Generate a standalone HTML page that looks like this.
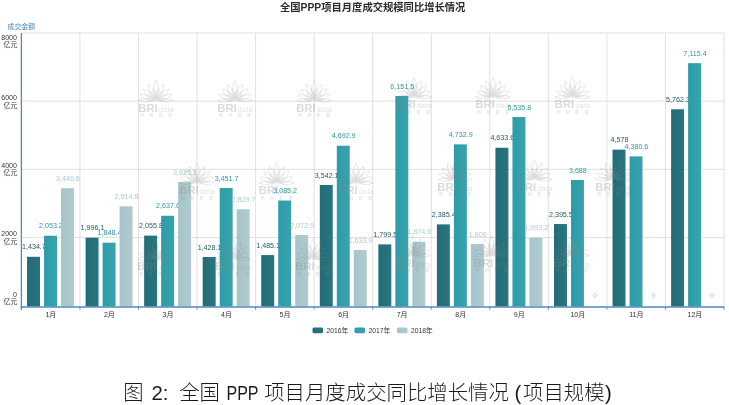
<!DOCTYPE html>
<html lang="zh">
<head>
<meta charset="utf-8">
<title>全国PPP项目月度成交规模同比增长情况</title>
<style>
html,body{margin:0;padding:0;background:#fff;}
body{width:729px;height:405px;overflow:hidden;}
svg{display:block;filter:blur(0.3px);}
</style>
</head>
<body>
<svg width="729" height="405" viewBox="0 0 2916 1620" font-family='"Liberation Sans", "Noto Sans CJK SC", sans-serif'>
<defs>
<linearGradient id="g0" x1="0" y1="0" x2="1" y2="0"><stop offset="0" stop-color="#226c77"/><stop offset="1" stop-color="#29757f"/></linearGradient>
<linearGradient id="g1" x1="0" y1="0" x2="1" y2="0"><stop offset="0" stop-color="#2d9ca8"/><stop offset="1" stop-color="#37a3ad"/></linearGradient>
<linearGradient id="g2" x1="0" y1="0" x2="1" y2="0"><stop offset="0" stop-color="#a5c4c9"/><stop offset="1" stop-color="#afcbd0"/></linearGradient>
<g id="wm" fill="none" stroke="#8a8a8a" stroke-width="2.4">
<path d="M0 -38.4Q18.4 -76.9 0 -108.4Q-18.4 -76.9 0 -38.4ZM-4.88 -37.36Q-2.67 -75.67 -30.1 -94Q-34.83 -61.36 -4.88 -37.36ZM4.88 -37.36Q34.83 -61.36 30.1 -94Q2.67 -75.67 4.88 -37.36ZM-8.78 -34.58Q-20.65 -68.63 -51.19 -74.14Q-43.56 -44.05 -8.78 -34.58ZM8.78 -34.58Q43.56 -44.05 51.19 -74.14Q20.65 -68.63 8.78 -34.58ZM-11.2 -30.7Q-35.25 -57.07 -65.35 -51.49Q-46.72 -27.2 -11.2 -30.7ZM11.2 -30.7Q46.72 -27.2 65.35 -51.49Q35.25 -57.07 11.2 -30.7ZM-11.99 -26.82Q-43.43 -40.72 -69.96 -28.84Q-44.32 -15.14 -11.99 -26.82ZM11.99 -26.82Q44.32 -15.14 69.96 -28.84Q43.43 -40.72 11.99 -26.82ZM-1.66 -34.23Q5.27 -59.32 -10.4 -75.31Q-18.2 -54.33 -1.66 -34.23ZM1.66 -34.23Q18.2 -54.33 10.4 -75.31Q-5.27 -59.32 1.66 -34.23ZM-4.7 -32.87Q-7.93 -56.36 -27.04 -63.61Q-26.05 -43.2 -4.7 -32.87ZM4.7 -32.87Q26.05 -43.2 27.04 -63.61Q7.93 -56.36 4.7 -32.87ZM-6.78 -30.64Q-18.06 -49.95 -37.31 -49.72Q-29.09 -32.31 -6.78 -30.64ZM6.78 -30.64Q29.09 -32.31 37.31 -49.72Q18.06 -49.95 6.78 -30.64ZM-7.85 -27.93Q-24.38 -40.92 -41.23 -34.41Q-28.04 -22.07 -7.85 -27.93ZM7.85 -27.93Q28.04 -22.07 41.23 -34.41Q24.38 -40.92 7.85 -27.93ZM0 -26.4Q8.8 -44 0 -58.4Q-8.8 -44 0 -26.4ZM0 -26.4Q-0.91 -42.38 -13 -48.92Q-13.39 -35.18 0 -26.4ZM0 -26.4Q13.39 -35.18 13 -48.92Q0.91 -42.38 0 -26.4Z"/>
<text x="6.4" y="16.4" font-size="44.8" font-weight="bold" fill="#8a8a8a" stroke="none" text-anchor="end">BRI</text>
<text x="10.8" y="16.4" font-size="28.8" fill="#8a8a8a" stroke="none" opacity="0.8" letter-spacing="1.4">data</text>
<text x="11.2" y="38.4" font-size="16" fill="#8a8a8a" stroke="none" text-anchor="middle" letter-spacing="21.6">明树数据</text>
</g>
</defs>
<rect width="2916" height="1620" fill="#fff"/>
<text x="1490.8" y="43.6" font-size="41.2" font-weight="bold" fill="#2b2b2b" text-anchor="middle">全国PPP项目月度成交规模同比增长情况</text>
<text x="30" y="114.4" font-size="27.6" fill="#4a86bd">成交金额</text>
<path d="M85.6 132H2896M85.6 404.7H2896M85.6 677.4H2896M85.6 950.1H2896M319.8 132V1222.8M554 132V1222.8M788.2 132V1222.8M1022.4 132V1222.8M1256.6 132V1222.8M1490.8 132V1222.8M1725 132V1222.8M1959.2 132V1222.8M2193.4 132V1222.8M2427.6 132V1222.8M2661.8 132V1222.8M2896 132V1222.8" stroke="#cecece" stroke-width="2.48" fill="none"/>
<text x="67.6" y="158.8" font-size="28" fill="#333" text-anchor="end">8000</text>
<text x="68.8" y="188" font-size="27.2" fill="#333" text-anchor="end">亿元</text>
<text x="67.6" y="400.8" font-size="28" fill="#333" text-anchor="end">6000</text>
<text x="68.8" y="430.8" font-size="27.2" fill="#333" text-anchor="end">亿元</text>
<text x="67.6" y="670" font-size="28" fill="#333" text-anchor="end">4000</text>
<text x="68.8" y="700.4" font-size="27.2" fill="#333" text-anchor="end">亿元</text>
<text x="67.6" y="943.2" font-size="28" fill="#333" text-anchor="end">2000</text>
<text x="68.8" y="974" font-size="27.2" fill="#333" text-anchor="end">亿元</text>
<text x="67.6" y="1187.6" font-size="28" fill="#333" text-anchor="end">0</text>
<text x="68.8" y="1217.2" font-size="27.2" fill="#333" text-anchor="end">亿元</text>
<rect x="108.2" y="1027.18" width="51.8" height="198.82" fill="url(#g0)"/>
<text x="135.7" y="997.58" font-size="28.6" fill="#265a65" text-anchor="middle">1,434.7</text>
<rect x="342.4" y="950.63" width="51.8" height="275.37" fill="url(#g0)"/>
<text x="369.9" y="921.03" font-size="28.6" fill="#265a65" text-anchor="middle">1,996.1</text>
<rect x="576.6" y="942.49" width="51.8" height="283.51" fill="url(#g0)"/>
<text x="604.1" y="912.89" font-size="28.6" fill="#265a65" text-anchor="middle">2,055.8</text>
<rect x="810.8" y="1028.08" width="51.8" height="197.92" fill="url(#g0)"/>
<text x="838.3" y="998.48" font-size="28.6" fill="#265a65" text-anchor="middle">1,428.1</text>
<rect x="1045" y="1020.31" width="51.8" height="205.69" fill="url(#g0)"/>
<text x="1072.5" y="990.71" font-size="28.6" fill="#265a65" text-anchor="middle">1,485.1</text>
<rect x="1279.2" y="739.83" width="51.8" height="486.17" fill="url(#g0)"/>
<text x="1306.7" y="710.23" font-size="28.6" fill="#265a65" text-anchor="middle">3,542.1</text>
<rect x="1513.4" y="977.44" width="51.8" height="248.56" fill="url(#g0)"/>
<text x="1540.9" y="947.84" font-size="28.6" fill="#265a65" text-anchor="middle">1,799.5</text>
<rect x="1747.6" y="897.55" width="51.8" height="328.45" fill="url(#g0)"/>
<text x="1775.1" y="867.95" font-size="28.6" fill="#265a65" text-anchor="middle">2,385.4</text>
<rect x="1981.8" y="591.01" width="51.8" height="634.99" fill="url(#g0)"/>
<text x="2009.3" y="561.41" font-size="28.6" fill="#265a65" text-anchor="middle">4,633.6</text>
<rect x="2216" y="896.17" width="51.8" height="329.83" fill="url(#g0)"/>
<text x="2243.5" y="866.57" font-size="28.6" fill="#265a65" text-anchor="middle">2,395.5</text>
<rect x="2450.2" y="598.59" width="51.8" height="627.41" fill="url(#g0)"/>
<text x="2477.7" y="568.99" font-size="28.6" fill="#265a65" text-anchor="middle">4,578</text>
<rect x="2684.4" y="437.11" width="51.8" height="788.89" fill="url(#g0)"/>
<text x="2711.9" y="407.51" font-size="28.6" fill="#265a65" text-anchor="middle">5,762.3</text>
<rect x="176.2" y="942.85" width="51.8" height="283.15" fill="url(#g1)"/>
<text x="203.7" y="913.25" font-size="28.6" fill="#2f98a4" text-anchor="middle">2,053.2</text>
<rect x="410.4" y="970.77" width="51.8" height="255.23" fill="url(#g1)"/>
<text x="437.9" y="941.17" font-size="28.6" fill="#2f98a4" text-anchor="middle">1,848.4</text>
<rect x="644.6" y="863.16" width="51.8" height="362.84" fill="url(#g1)"/>
<text x="672.1" y="833.56" font-size="28.6" fill="#2f98a4" text-anchor="middle">2,637.6</text>
<rect x="878.8" y="752.16" width="51.8" height="473.84" fill="url(#g1)"/>
<text x="906.3" y="722.56" font-size="28.6" fill="#2f98a4" text-anchor="middle">3,451.7</text>
<rect x="1113" y="802.13" width="51.8" height="423.87" fill="url(#g1)"/>
<text x="1140.5" y="772.53" font-size="28.6" fill="#2f98a4" text-anchor="middle">3,085.2</text>
<rect x="1347.2" y="582.92" width="51.8" height="643.08" fill="url(#g1)"/>
<text x="1374.7" y="553.32" font-size="28.6" fill="#2f98a4" text-anchor="middle">4,692.9</text>
<rect x="1581.4" y="384.04" width="51.8" height="841.96" fill="url(#g1)"/>
<text x="1608.9" y="354.44" font-size="28.6" fill="#2f98a4" text-anchor="middle">6,151.5</text>
<rect x="1815.6" y="577.47" width="51.8" height="648.53" fill="url(#g1)"/>
<text x="1843.1" y="547.87" font-size="28.6" fill="#2f98a4" text-anchor="middle">4,732.9</text>
<rect x="2049.8" y="467.99" width="51.8" height="758.01" fill="url(#g1)"/>
<text x="2077.3" y="438.39" font-size="28.6" fill="#2f98a4" text-anchor="middle">5,535.8</text>
<rect x="2284" y="719.94" width="51.8" height="506.06" fill="url(#g1)"/>
<text x="2311.5" y="690.34" font-size="28.6" fill="#2f98a4" text-anchor="middle">3,688</text>
<rect x="2518.2" y="625.51" width="51.8" height="600.49" fill="url(#g1)"/>
<text x="2545.7" y="595.91" font-size="28.6" fill="#2f98a4" text-anchor="middle">4,380.6</text>
<rect x="2752.4" y="252.62" width="51.8" height="973.38" fill="url(#g1)"/>
<text x="2779.9" y="223.02" font-size="28.6" fill="#2f98a4" text-anchor="middle">7,115.4</text>
<rect x="244.2" y="752.86" width="51.8" height="473.14" fill="url(#g2)"/>
<text x="271.7" y="723.26" font-size="28.6" fill="#b0cacf" text-anchor="middle">3,446.6</text>
<rect x="478.4" y="825.37" width="51.8" height="400.63" fill="url(#g2)"/>
<text x="505.9" y="795.77" font-size="28.6" fill="#b0cacf" text-anchor="middle">2,914.8</text>
<rect x="712.6" y="728.5" width="51.8" height="497.5" fill="url(#g2)"/>
<text x="740.1" y="698.9" font-size="28.6" fill="#b0cacf" text-anchor="middle">3,625.2</text>
<rect x="946.8" y="836.97" width="51.8" height="389.03" fill="url(#g2)"/>
<text x="974.3" y="807.37" font-size="28.6" fill="#b0cacf" text-anchor="middle">2,829.7</text>
<rect x="1181" y="940.16" width="51.8" height="285.84" fill="url(#g2)"/>
<text x="1208.5" y="910.56" font-size="28.6" fill="#b0cacf" text-anchor="middle">2,072.9</text>
<rect x="1415.2" y="1000.02" width="51.8" height="225.98" fill="url(#g2)"/>
<text x="1442.7" y="970.42" font-size="28.6" fill="#b0cacf" text-anchor="middle">1,633.9</text>
<rect x="1649.4" y="967.16" width="51.8" height="258.84" fill="url(#g2)"/>
<text x="1676.9" y="937.56" font-size="28.6" fill="#b0cacf" text-anchor="middle">1,874.9</text>
<rect x="1883.6" y="976.55" width="51.8" height="249.45" fill="url(#g2)"/>
<text x="1911.1" y="946.95" font-size="28.6" fill="#b0cacf" text-anchor="middle">1,806</text>
<rect x="2117.8" y="951.03" width="51.8" height="274.97" fill="url(#g2)"/>
<text x="2145.3" y="921.43" font-size="28.6" fill="#b0cacf" text-anchor="middle">1,993.2</text>
<text x="2379.5" y="1193.2" font-size="28.6" fill="#b0cacf" text-anchor="middle">0</text>
<text x="2613.7" y="1193.2" font-size="28.6" fill="#b0cacf" text-anchor="middle">0</text>
<text x="2847.9" y="1193.2" font-size="28.6" fill="#b0cacf" text-anchor="middle">0</text>
<g opacity="0.31">
<use href="#wm" x="624" y="430"/>
<use href="#wm" x="940" y="430"/>
<use href="#wm" x="1256" y="430"/>
<use href="#wm" x="1656" y="416.8"/>
<use href="#wm" x="1972" y="416.8"/>
<use href="#wm" x="2290" y="416.8"/>
<use href="#wm" x="788" y="760"/>
<use href="#wm" x="1106" y="760"/>
<use href="#wm" x="1424" y="760"/>
<use href="#wm" x="1820" y="746.4"/>
<use href="#wm" x="2138" y="746.4"/>
<use href="#wm" x="2452" y="746.4"/>
<use href="#wm" x="620" y="1064"/>
<use href="#wm" x="932" y="1064"/>
<use href="#wm" x="1252" y="1064"/>
<use href="#wm" x="1652" y="1051.2"/>
<use href="#wm" x="1966" y="1051.2"/>
<use href="#wm" x="2286" y="1051.2"/>
</g>
<path d="M85.6 132V1238.8" stroke="#4f88c0" stroke-width="5.2" fill="none"/>
<path d="M83.2 1227.6H2897.6" stroke="#4f88c0" stroke-width="6" fill="none"/>
<path d="M85.6 1226.8V1238.8M319.8 1226.8V1238.8M554 1226.8V1238.8M788.2 1226.8V1238.8M1022.4 1226.8V1238.8M1256.6 1226.8V1238.8M1490.8 1226.8V1238.8M1725 1226.8V1238.8M1959.2 1226.8V1238.8M2193.4 1226.8V1238.8M2427.6 1226.8V1238.8M2661.8 1226.8V1238.8M2896 1226.8V1238.8" stroke="#4a86bd" stroke-width="3.6" fill="none"/>
<text x="203.5" y="1267.6" font-size="28.2" fill="#333" text-anchor="middle">1月</text>
<text x="437.7" y="1267.6" font-size="28.2" fill="#333" text-anchor="middle">2月</text>
<text x="671.9" y="1267.6" font-size="28.2" fill="#333" text-anchor="middle">3月</text>
<text x="906.1" y="1267.6" font-size="28.2" fill="#333" text-anchor="middle">4月</text>
<text x="1140.3" y="1267.6" font-size="28.2" fill="#333" text-anchor="middle">5月</text>
<text x="1374.5" y="1267.6" font-size="28.2" fill="#333" text-anchor="middle">6月</text>
<text x="1608.7" y="1267.6" font-size="28.2" fill="#333" text-anchor="middle">7月</text>
<text x="1842.9" y="1267.6" font-size="28.2" fill="#333" text-anchor="middle">8月</text>
<text x="2077.1" y="1267.6" font-size="28.2" fill="#333" text-anchor="middle">9月</text>
<text x="2311.3" y="1267.6" font-size="28.2" fill="#333" text-anchor="middle">10月</text>
<text x="2545.5" y="1267.6" font-size="28.2" fill="#333" text-anchor="middle">11月</text>
<text x="2779.7" y="1267.6" font-size="28.2" fill="#333" text-anchor="middle">12月</text>
<rect x="1250" y="1309.6" width="42.4" height="23.6" rx="6.4" fill="url(#g0)"/>
<text x="1306" y="1330.4" font-size="27" fill="#333">2016年</text>
<rect x="1418" y="1309.6" width="42.4" height="23.6" rx="6.4" fill="url(#g1)"/>
<text x="1474" y="1330.4" font-size="27" fill="#333">2017年</text>
<rect x="1588" y="1309.6" width="42.4" height="23.6" rx="6.4" fill="url(#g2)"/>
<text x="1644" y="1330.4" font-size="27" fill="#333">2018年</text>
<text y="1598.4" font-size="81.6" font-weight="300" fill="#1a1a1a"><tspan x="492.8">图</tspan><tspan x="606">2:</tspan><tspan x="716.8">全国</tspan><tspan x="906" textLength="128" lengthAdjust="spacingAndGlyphs">PPP</tspan><tspan x="1056.8">项目月度成交同比增长情况</tspan><tspan x="2057.6">(</tspan><tspan x="2092.4">项目规模</tspan><tspan x="2420.4">)</tspan></text>
</svg>
</body>
</html>
